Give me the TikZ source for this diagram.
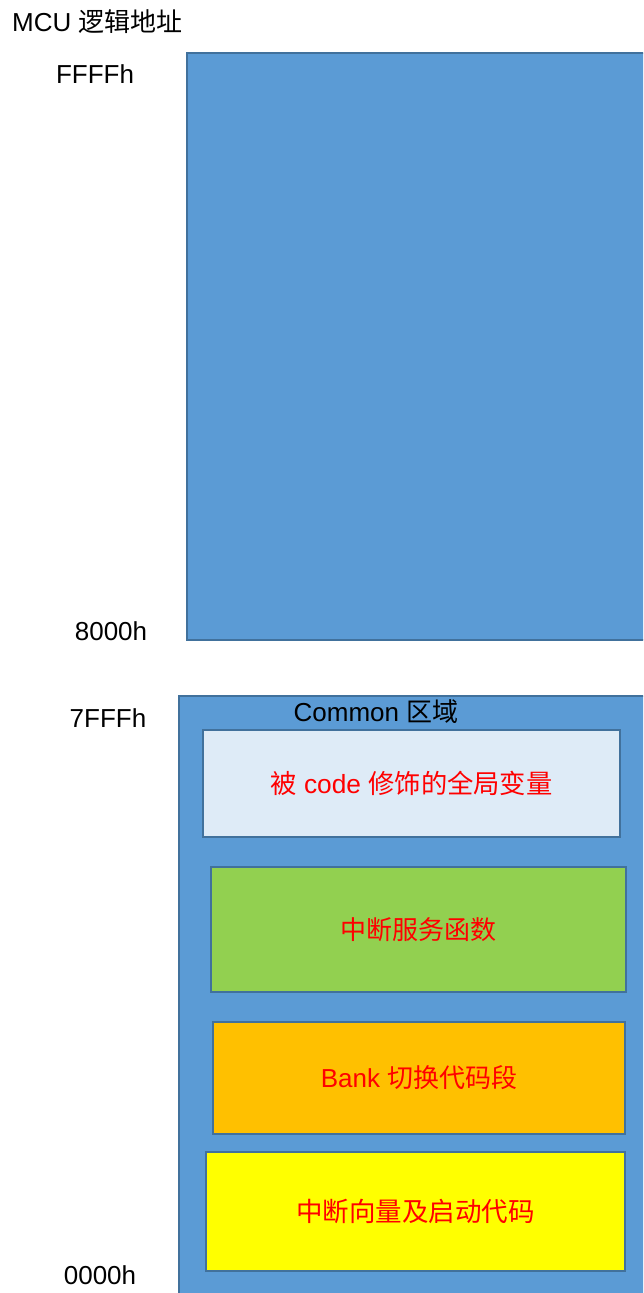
\documentclass[tikz,border=0pt]{standalone}
\usepackage{fontspec}
\setmainfont{Liberation Sans}
\newfontfamily\cjk{Noto Sans CJK SC}
\definecolor{blockblue}{HTML}{5B9BD5}
\definecolor{edgeblue}{HTML}{41719C}
\definecolor{paleblue}{HTML}{DEEBF7}
\definecolor{codegreen}{HTML}{92D050}
\definecolor{bankorange}{HTML}{FFC000}
\definecolor{vecyellow}{HTML}{FFFF00}
\begin{document}
\begin{tikzpicture}[x=1pt, y=-1pt,
    block/.style={draw=edgeblue, line width=2pt, fill=blockblue, rectangle, inner sep=0pt},
    seg/.style={draw=edgeblue, line width=2pt, rectangle, inner sep=0pt, text=red, font=\fontsize{26}{30}\selectfont},
    addr/.style={inner sep=0pt, font=\fontsize{26}{30}\selectfont}]

    \useasboundingbox (0,0) rectangle (643,1293);
    \clip (0,0) rectangle (643,1293);

    % high half and low half
    \node [block, minimum width=473pt, minimum height=587pt] at (423.5,346.5) (High) {};
    \node [block, minimum width=481pt, minimum height=620pt] at (419.5,1006) (Low) {};

    \node [seg, fill=paleblue, minimum width=417pt, minimum height=107pt, font=\fontsize{26.3}{30}\selectfont] at (411.5,783.5) (Var) {{\cjk 被} code {\cjk 修饰的全局变量}};
    \node [seg, fill=codegreen, minimum width=415pt, minimum height=125pt] at (418.5,929.5) (Isr) {\cjk 中断服务函数};
    \node [seg, fill=bankorange, minimum width=412pt, minimum height=112pt] at (419,1078) (Bank) {Bank {\cjk 切换代码段}};
    \node [seg, fill=vecyellow, minimum width=419pt, minimum height=119pt, font=\fontsize{26.5}{30}\selectfont] at (415.5,1211.5) (Vec) {\cjk 中断向量及启动代码};

    \node [addr, anchor=west] at (12,22) (Title) {MCU {\cjk 逻辑地址}};
    \node [addr] at (95,74) (Top) {FFFFh};
    \node [addr] at (111,631) (Mid) {8000h};
    \node [addr] at (108,718) (LowTop) {7FFFh};
    \node [addr] at (100,1275) (Bottom) {0000h};
    \node [addr] at (376,712) (Common) {Common {\cjk 区域}};

\end{tikzpicture}
\end{document}
